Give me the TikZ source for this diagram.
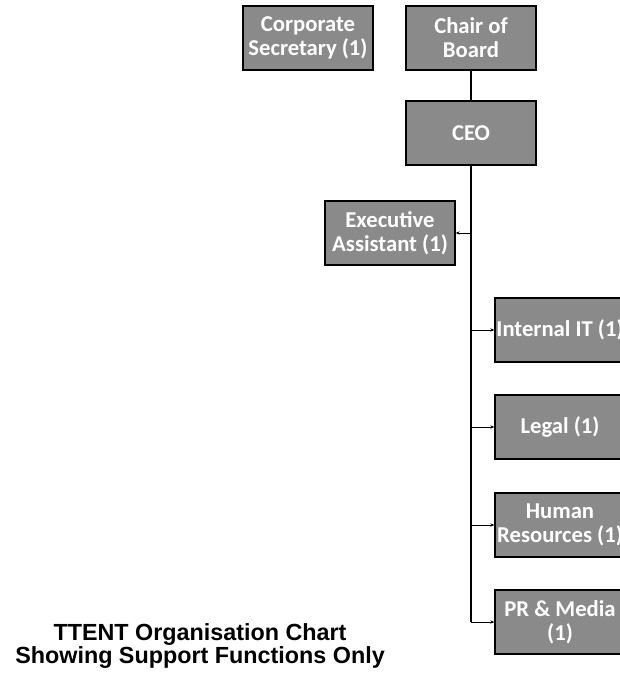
\documentclass[tikz,border=0pt]{standalone}
\usepackage{fontspec}
\setmainfont{Liberation Sans}
\newfontfamily\boxfont{Carlito}
\usetikzlibrary{arrows.meta}

\begin{document}
\begin{tikzpicture}[x=0.75pt, y=-0.75pt,
    post/.style={draw=black, line width=1pt, fill={rgb,255:red,138;green,138;blue,138},
        minimum width=97.5pt, minimum height=48pt, inner sep=1pt, align=center,
        text=white, font=\boxfont\bfseries\fontsize{17}{18}\selectfont},
    trunk/.style={line width=1.3pt},
    branch/.style={line width=0.5pt, -{Stealth[length=3pt, width=2.5pt]}}]
            \useasboundingbox (0,0) rectangle (619,677);
            \coordinate (S) at (308,38);
            \coordinate (B) at (471,38);
            \coordinate (C) at (471,133);
            \coordinate (E) at (390,233);
            \coordinate (I) at (560,330);
            \coordinate (L) at (560,427);
            \coordinate (H) at (560,525);
            \coordinate (P) at (560,622);
            \node (sec) at (S) [post] {Corporate\\Secretary (1)};
            \node (chair) at (B) [post] {Chair of\\Board};
            \node (ceo) at (C) [post] {CEO};
            \node (exec) at (E) [post] {Executive\\Assistant (1)};
            \node (it) at (I) [post] {Internal IT (1)};
            \node (legal) at (L) [post] {Legal (1)};
            \node (hr) at (H) [post] {Human\\Resources (1)};
            \node (pr) at (P) [post] {PR \& Media\\(1)};
            \node (title) at (200,646) [align=center, font=\bfseries\fontsize{17.5}{17.25}\selectfont]
                {TTENT Organisation Chart\\Showing Support Functions Only};
            \draw[trunk] (chair) -- (ceo);
            \draw[trunk] (ceo.south) -- (ceo.south |- pr.west);
            \draw[branch] (ceo.south |- pr.west) -- (pr.west);
            \draw[branch] (ceo.south |- exec.east) -- (exec.east);
            \draw[branch] (ceo.south |- it.west) -- (it.west);
            \draw[branch] (ceo.south |- legal.west) -- (legal.west);
            \draw[branch] (ceo.south |- hr.west) -- (hr.west);
        \end{tikzpicture}
\end{document}
